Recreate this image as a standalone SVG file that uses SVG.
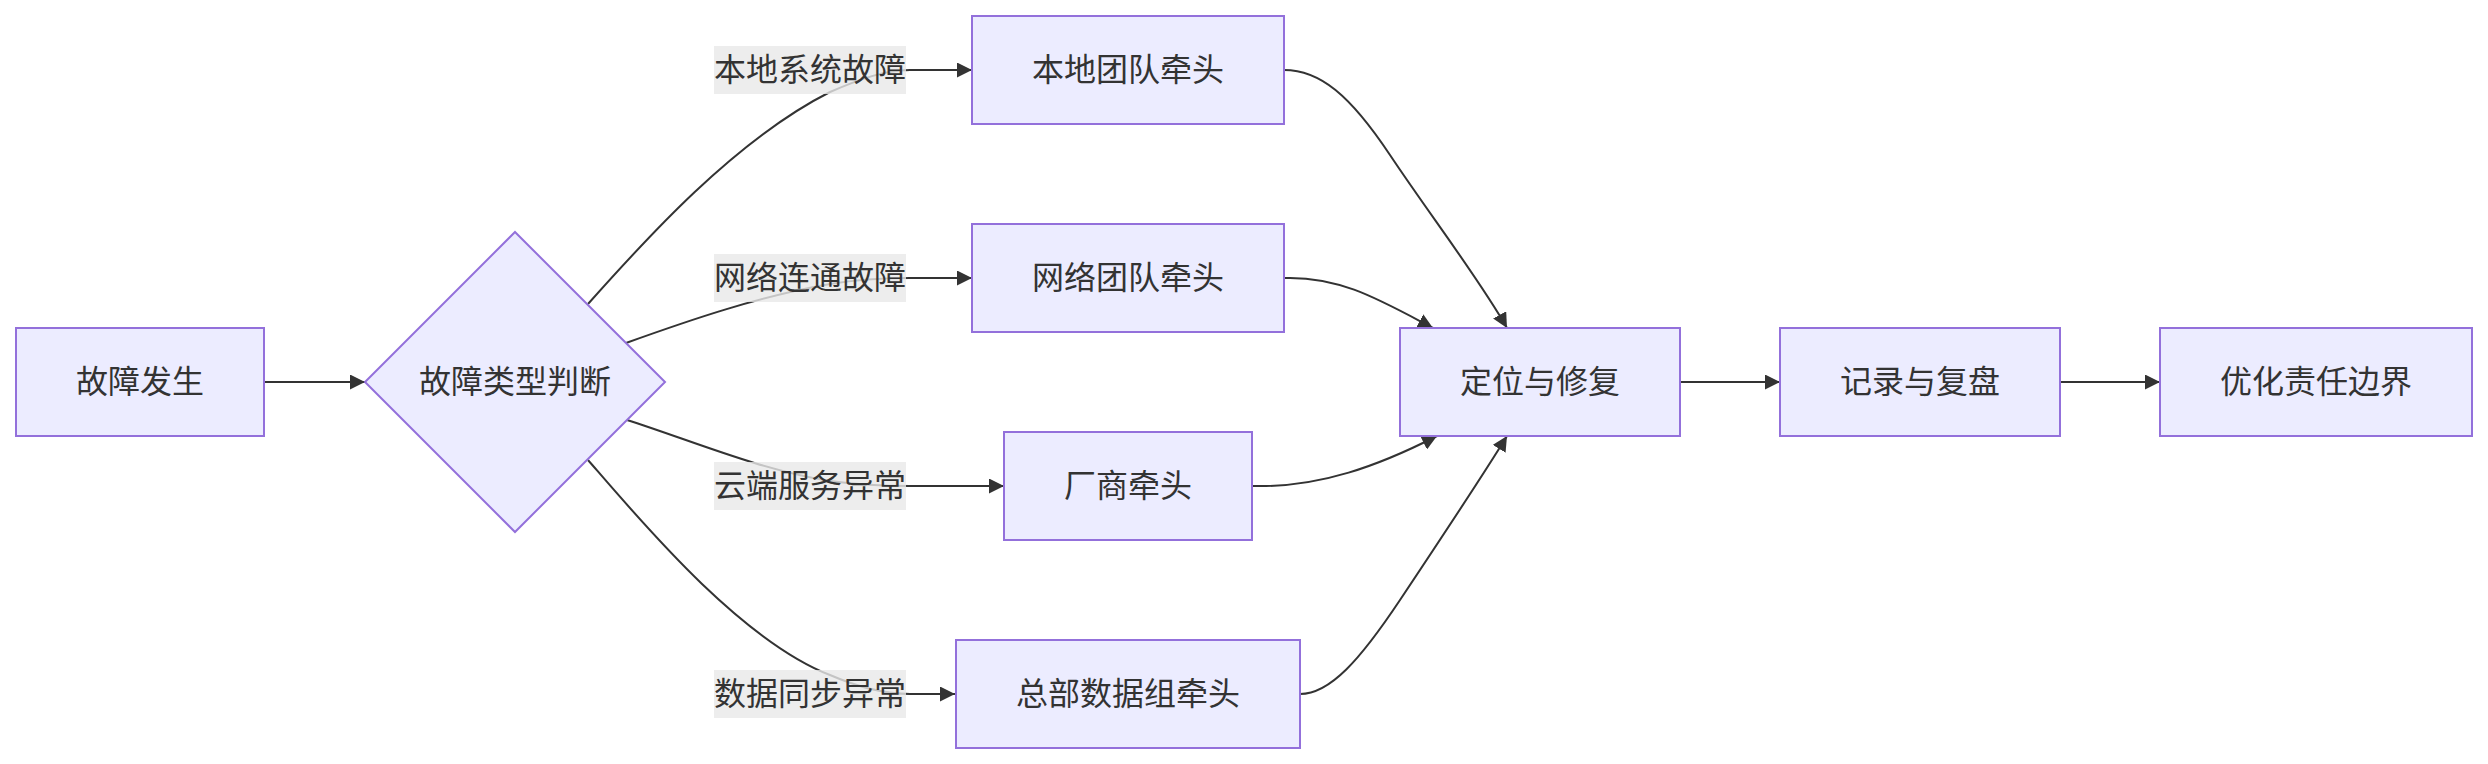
<svg xmlns="http://www.w3.org/2000/svg" width="2488" height="764" viewBox="0 0 2488 764">
<style>
.node rect,.node polygon{fill:#ECECFF;stroke:#9370DB;stroke-width:2}
.node text,.elabel text{font-family:"Trebuchet MS","Liberation Sans","Noto Sans CJK SC",sans-serif;font-size:32px;fill:#333;text-anchor:middle;dominant-baseline:central}
.edge{fill:none;stroke:#333;stroke-width:2;marker-end:url(#arrow)}
.elabel rect{fill:rgba(232,232,232,0.8)}
</style>
<defs>
<marker id="arrow" viewBox="0 0 10 10" refX="10" refY="5" markerUnits="userSpaceOnUse" markerWidth="15" markerHeight="15" orient="auto">
<path d="M0,0 L10,5 L0,10 z" fill="#333"/>
</marker>
</defs>
<rect width="2488" height="764" fill="#fff"/>
<g id="connectors">
<path class="edge" d="M264,382 L365,382"/>
<path class="edge" d="M588,304 C645,240 735,140 830,92 C860,79 885,70 910,70 L972,70"/>
<path class="edge" d="M626,343 C690,320 760,296 830,284 C860,279 885,278 910,278 L972,278"/>
<path class="edge" d="M627,420 C690,440 760,470 830,481 C860,485 885,486 910,486 L1004,486"/>
<path class="edge" d="M588,460 C640,520 740,640 830,675 C860,688 885,694 910,694 L955,694"/>
<path class="edge" d="M1284,70 C1320,70 1350,95 1390,155 C1430,215 1480,280 1507,328"/>
<path class="edge" d="M1284,278 C1340,276 1380,300 1433,328"/>
<path class="edge" d="M1252,486 C1320,488 1380,465 1437,436"/>
<path class="edge" d="M1300,694 C1330,694 1360,660 1400,600 C1440,540 1480,480 1507,436"/>
<path class="edge" d="M1680,382 L1780,382"/>
<path class="edge" d="M2060,382 L2160,382"/>
</g>
<g id="edge-labels">
<g class="elabel" id="label-local"><rect x="714" y="46" width="192" height="48"/><text x="810" y="70">本地系统故障</text></g>
<g class="elabel" id="label-network"><rect x="714" y="254" width="192" height="48"/><text x="810" y="278">网络连通故障</text></g>
<g class="elabel" id="label-cloud"><rect x="714" y="462" width="192" height="48"/><text x="810" y="486">云端服务异常</text></g>
<g class="elabel" id="label-data"><rect x="714" y="670" width="192" height="48"/><text x="810" y="694">数据同步异常</text></g>
</g>
<g class="node" id="n-start"><rect x="16" y="328" width="248" height="108"/><text x="140" y="382">故障发生</text></g>
<g class="node" id="n-decision"><polygon points="515,232 665,382 515,532 365,382"/><text x="515" y="382">故障类型判断</text></g>
<g class="node" id="n-local"><rect x="972" y="16" width="312" height="108"/><text x="1128" y="70">本地团队牵头</text></g>
<g class="node" id="n-network"><rect x="972" y="224" width="312" height="108"/><text x="1128" y="278">网络团队牵头</text></g>
<g class="node" id="n-vendor"><rect x="1004" y="432" width="248" height="108"/><text x="1128" y="486">厂商牵头</text></g>
<g class="node" id="n-hq"><rect x="956" y="640" width="344" height="108"/><text x="1128" y="694">总部数据组牵头</text></g>
<g class="node" id="n-fix"><rect x="1400" y="328" width="280" height="108"/><text x="1540" y="382">定位与修复</text></g>
<g class="node" id="n-review"><rect x="1780" y="328" width="280" height="108"/><text x="1920" y="382">记录与复盘</text></g>
<g class="node" id="n-optimize"><rect x="2160" y="328" width="312" height="108"/><text x="2316" y="382">优化责任边界</text></g>
</svg>
